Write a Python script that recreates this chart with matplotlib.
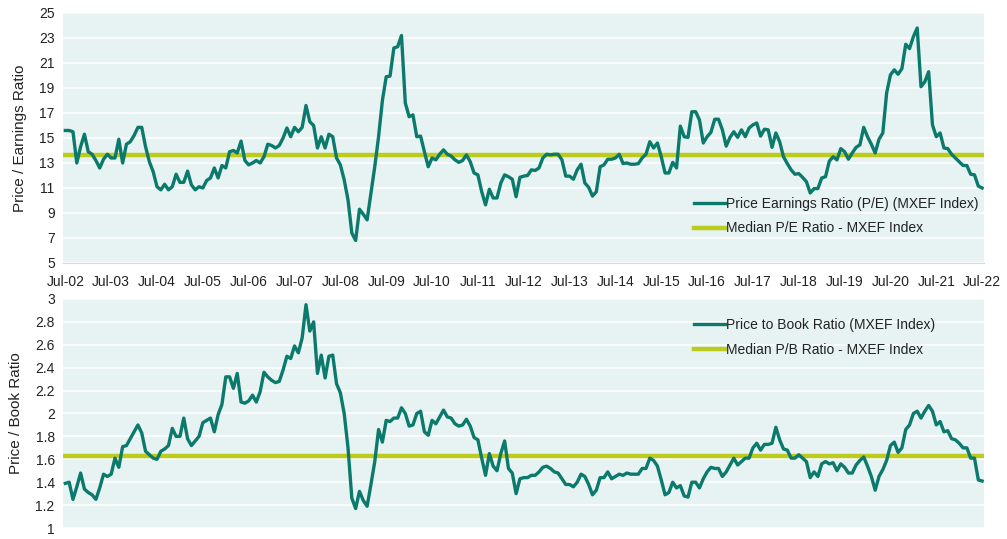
import matplotlib
matplotlib.use("Agg")
import matplotlib.pyplot as plt
import numpy as np

plt.rcParams['font.family'] = ['Liberation Sans', 'DejaVu Sans']

tick_labels = ["Jul-02", "Jul-03", "Jul-04", "Jul-05", "Jul-06", "Jul-07", "Jul-08",
               "Jul-09", "Jul-10", "Jul-11", "Jul-12", "Jul-13", "Jul-14", "Jul-15",
               "Jul-16", "Jul-17", "Jul-18", "Jul-19", "Jul-20", "Jul-21", "Jul-22"]

pe_ratio = [
    15.6, 15.6, 15.5, 13.0, 14.3, 15.3, 13.9, 13.7, 13.2, 12.6, 13.3, 13.7,
    13.4, 13.4, 14.9, 13.0, 14.5, 14.7, 15.2, 15.85, 15.85, 14.3, 13.1, 12.3,
    11.1, 10.85, 11.3, 10.85, 11.1, 12.1, 11.45, 11.45, 12.35, 11.25, 10.85, 11.1,
    11.0, 11.6, 11.8, 12.6, 11.8, 12.8, 12.6, 13.9, 14.0, 13.8, 14.75, 13.2,
    12.85, 13.0, 13.2, 13.0, 13.5, 14.5, 14.4, 14.2, 14.4, 15.0, 15.8, 15.1,
    15.85, 15.5, 15.85, 17.6, 16.3, 16.0, 14.2, 15.1, 14.2, 15.3, 15.1, 13.4,
    12.85, 11.65, 10.05, 7.4, 6.8, 9.3, 8.9, 8.45, 10.6, 12.7, 15.1, 18.0,
    19.9, 19.95, 22.2, 22.3, 23.2, 17.8, 16.7, 16.85, 15.1, 15.15, 13.9, 12.7,
    13.4, 13.25, 13.7, 14.05, 13.7, 13.55, 13.25, 13.05, 13.2, 13.65, 13.1, 12.2,
    12.05, 10.7, 9.65, 10.9, 10.2, 10.2, 11.4, 12.05, 11.9, 11.7, 10.3, 11.85,
    11.95, 12.0, 12.45, 12.4, 12.6, 13.4, 13.7, 13.65, 13.7, 13.7, 13.25, 11.95,
    11.95, 11.7, 12.45, 12.9, 11.4, 11.05, 10.35, 10.7, 12.7, 12.85, 13.3, 13.3,
    13.4, 13.7, 12.95, 13.0, 12.9, 12.9, 12.95, 13.4, 13.7, 14.7, 14.2, 14.6,
    13.5, 12.2, 12.2, 13.05, 12.6, 15.95, 15.1, 15.05, 17.1, 17.1, 16.45, 14.6,
    15.1, 15.45, 16.5, 16.5, 15.65, 14.35, 15.05, 15.5, 15.05, 15.65, 15.1, 15.8,
    16.05, 16.2, 15.15, 15.7, 15.65, 14.25, 15.4, 14.7, 13.5, 12.95, 12.45, 12.1,
    12.15, 11.85, 11.5, 10.6, 10.95, 10.95, 11.8, 11.9, 13.15, 13.5, 13.25, 14.15,
    13.9, 13.3, 13.8, 14.25, 14.45, 15.85, 15.1, 14.5, 13.8, 14.9, 15.4, 18.6,
    20.05, 20.45, 20.1, 20.55, 22.5, 22.15, 23.1, 23.8, 19.1, 19.5, 20.3, 16.05,
    15.1, 15.4, 14.2, 14.15, 13.7, 13.4, 13.1, 12.8, 12.8, 12.1, 12.05, 11.15, 11.0,
]

pb_ratio = [
    1.39, 1.40, 1.25, 1.36, 1.48, 1.34, 1.31, 1.29, 1.25, 1.35, 1.47, 1.45,
    1.47, 1.61, 1.53, 1.71, 1.72, 1.78, 1.84, 1.90, 1.83, 1.67, 1.64, 1.61,
    1.60, 1.67, 1.69, 1.72, 1.87, 1.80, 1.80, 1.96, 1.78, 1.72, 1.76, 1.80,
    1.92, 1.94, 1.96, 1.84, 1.99, 2.08, 2.32, 2.32, 2.22, 2.35, 2.10, 2.09,
    2.11, 2.16, 2.10, 2.19, 2.36, 2.32, 2.29, 2.27, 2.28, 2.38, 2.50, 2.48,
    2.59, 2.53, 2.66, 2.95, 2.72, 2.80, 2.35, 2.51, 2.31, 2.50, 2.51, 2.26,
    2.18, 2.00, 1.70, 1.26, 1.17, 1.32, 1.24, 1.19, 1.38, 1.58, 1.86, 1.75,
    1.94, 1.93, 1.96, 1.96, 2.05, 2.00, 1.89, 1.90, 2.00, 2.02, 1.84, 1.81,
    1.94, 1.91, 1.97, 2.03, 1.97, 1.96, 1.91, 1.89, 1.90, 1.95, 1.89, 1.79,
    1.77, 1.61, 1.46, 1.65, 1.54, 1.50, 1.65, 1.76, 1.52, 1.48, 1.30, 1.43,
    1.44, 1.44, 1.46, 1.46, 1.49, 1.53, 1.54, 1.52, 1.49, 1.48, 1.43, 1.38,
    1.38, 1.36, 1.40, 1.47, 1.45, 1.38, 1.29, 1.33, 1.44, 1.44, 1.49, 1.43,
    1.45, 1.47, 1.46, 1.48, 1.47, 1.47, 1.47, 1.52, 1.52, 1.61, 1.59, 1.54,
    1.42, 1.29, 1.31, 1.40, 1.35, 1.37, 1.28, 1.27, 1.40, 1.40, 1.35, 1.43,
    1.49, 1.53, 1.52, 1.52, 1.45, 1.49, 1.55, 1.61, 1.55, 1.58, 1.61, 1.61,
    1.70, 1.74, 1.68, 1.73, 1.73, 1.74, 1.88, 1.77, 1.69, 1.68, 1.61, 1.61,
    1.64, 1.61, 1.58, 1.44, 1.49, 1.45, 1.56, 1.58, 1.56, 1.57, 1.50, 1.56,
    1.53, 1.48, 1.48, 1.55, 1.59, 1.62, 1.54, 1.45, 1.33, 1.45, 1.51, 1.59,
    1.72, 1.75, 1.66, 1.70, 1.86, 1.90, 2.00, 2.02, 1.96, 2.02, 2.07, 2.02,
    1.90, 1.93, 1.84, 1.85, 1.78, 1.77, 1.74, 1.70, 1.70, 1.61, 1.61, 1.42, 1.41,
]

pe_median = 13.6
pb_median = 1.63

BG = "#E6F3F2"
TEAL = "#0B7A6C"
LIME = "#BDCB1F"
TXT = "#222222"

fig = plt.figure(figsize=(10.07, 5.39), dpi=100)
ax1 = fig.add_axes([0.0626, 0.5121, 0.9146, 0.4638])
ax2 = fig.add_axes([0.0626, 0.0204, 0.9146, 0.4249])

x = np.arange(len(pe_ratio))
xt = np.arange(0, len(tick_labels) * 12, 12)

for ax in (ax1, ax2):
    ax.set_facecolor(BG)
    for s in ax.spines.values():
        s.set_visible(False)
    ax.grid(axis='y', color='white', linewidth=1.2)
    ax.set_axisbelow(True)
    ax.tick_params(axis='both', length=0, labelsize=10, colors=TXT)
    ax.tick_params(axis='y', pad=6)
    ax.set_xlim(-0.6, 240.5)

# Top panel
ax1.plot(x, pe_ratio, color=TEAL, linewidth=2.4, solid_joinstyle='round',
         label="Price Earnings Ratio (P/E) (MXEF Index)", zorder=3)
ax1.axhline(pe_median, color=LIME, linewidth=3.2, zorder=2,
            label="Median P/E Ratio - MXEF Index")
ax1.set_ylim(5, 25)
ax1.set_yticks(np.arange(5, 26, 2))
ax1.set_xticks(xt)
ax1.set_xticklabels(tick_labels)
ax1.tick_params(axis='x', pad=9)
ax1.spines['bottom'].set_visible(True)
ax1.spines['bottom'].set_color('#D9D9D9')
ax1.set_ylabel("Price / Earnings Ratio", fontsize=11, color=TXT, labelpad=9)
ax1.legend(loc='lower left', bbox_to_anchor=(0.672, 0.06), frameon=False,
           fontsize=10, handlelength=2.2, handletextpad=0.1, labelspacing=0.75,
           labelcolor=TXT)

# Bottom panel
ax2.plot(x, pb_ratio, color=TEAL, linewidth=2.4, solid_joinstyle='round',
         label="Price to Book Ratio (MXEF Index)", zorder=3)
ax2.axhline(pb_median, color=LIME, linewidth=3.2, zorder=2,
            label="Median P/B Ratio - MXEF Index")
ax2.set_ylim(1, 3)
pb_ticks = np.round(np.arange(1, 3.01, 0.2), 1)
ax2.set_yticks(pb_ticks)
ax2.set_yticklabels([f"{v:g}" for v in pb_ticks])
ax2.set_xticks([])
ax2.set_ylabel("Price / Book Ratio", fontsize=11, color=TXT, labelpad=9)
ax2.legend(loc='upper left', bbox_to_anchor=(0.672, 0.97), frameon=False,
           fontsize=10, handlelength=2.2, handletextpad=0.1, labelspacing=0.75,
           labelcolor=TXT)

fig.savefig("out.png", dpi=100)
